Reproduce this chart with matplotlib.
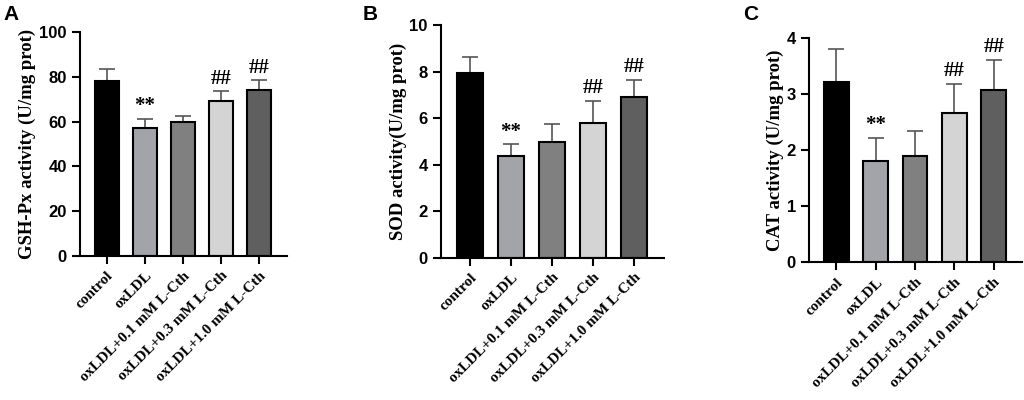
import numpy as np
import matplotlib.pyplot as plt

groups = ['control', 'oxLDL', 'oxLDL+0.1 mM L-Cth',
          'oxLDL+0.3 mM L-Cth', 'oxLDL+1.0 mM L-Cth']

gsh_mean = [78.3, 57.3, 59.8, 69.4, 73.9]
gsh_sd = [5.0, 4.0, 2.9, 4.1, 4.5]

sod_mean = [7.94, 4.36, 4.99, 5.78, 6.92]
sod_sd = [0.70, 0.51, 0.76, 0.95, 0.72]

cat_mean = [3.21, 1.81, 1.89, 2.66, 3.06]
cat_sd = [0.58, 0.41, 0.44, 0.52, 0.54]

gsh_marks = ['', '**', '', '##', '##']
sod_marks = ['', '**', '', '##', '##']
cat_marks = ['', '**', '', '##', '##']

bar_colors = ['#000000', '#a3a3aa', '#808080', '#d4d4d4', '#5f5f5f']

panels = [
    ('A', gsh_mean, gsh_sd, gsh_marks, 'GSH-Px activity (U/mg prot)', 100, 20,
     [0.078, 0.36, 0.202, 0.56], 0.003),
    ('B', sod_mean, sod_sd, sod_marks, 'SOD activity(U/mg prot)', 10, 2,
     [0.4307, 0.356, 0.2177, 0.5815], 0.354),
    ('C', cat_mean, cat_sd, cat_marks, 'CAT activity (U/mg prot)', 4, 1,
     [0.790, 0.344, 0.208, 0.562], 0.726),
]

fig = plt.figure(figsize=(10.24, 4), dpi=100)

for letter, mean, sd, marks, ylabel, ymax, ystep, pos, lx in panels:
    ax = fig.add_axes(pos)
    x = np.arange(len(groups))
    ax.bar(x, mean, width=0.63, color=bar_colors, edgecolor='black',
           linewidth=1.5, zorder=2)
    ax.errorbar(x, mean, yerr=[np.zeros(len(sd)), sd], fmt='none',
                ecolor='#555555', elinewidth=1.2, capsize=6, capthick=1.2,
                zorder=1)
    for xi, m, s, t in zip(x, mean, sd, marks):
        if t:
            ax.text(xi, m + s + ymax * 0.012, t, ha='center', va='bottom',
                    fontsize=15, fontweight='bold', family='Liberation Serif')

    ax.set_xlim(-0.7, 4.72)
    ax.set_ylim(0, ymax)
    ax.set_yticks(np.arange(0, ymax + ystep / 2, ystep))
    ax.spines['top'].set_visible(False)
    ax.spines['right'].set_visible(False)
    ax.spines['left'].set_linewidth(1.5)
    ax.spines['bottom'].set_linewidth(1.5)
    ax.tick_params(width=1.5, length=6)
    ax.set_xticks(x)
    ax.set_xticklabels(groups, rotation=45, ha='right', rotation_mode='anchor',
                       fontsize=11, fontweight='bold', family='Liberation Serif')
    for lab in ax.get_yticklabels():
        lab.set_fontsize(12)
        lab.set_fontweight('bold')
        lab.set_family('Liberation Sans')
    ax.set_ylabel(ylabel, fontsize=13.5, fontweight='bold',
                  family='Liberation Serif', labelpad=2)
    fig.text(lx, 0.965, letter, fontsize=15, fontweight='bold',
             family='Liberation Sans', ha='left', va='center')

fig.savefig('out.png', dpi=100)
plt.close()
